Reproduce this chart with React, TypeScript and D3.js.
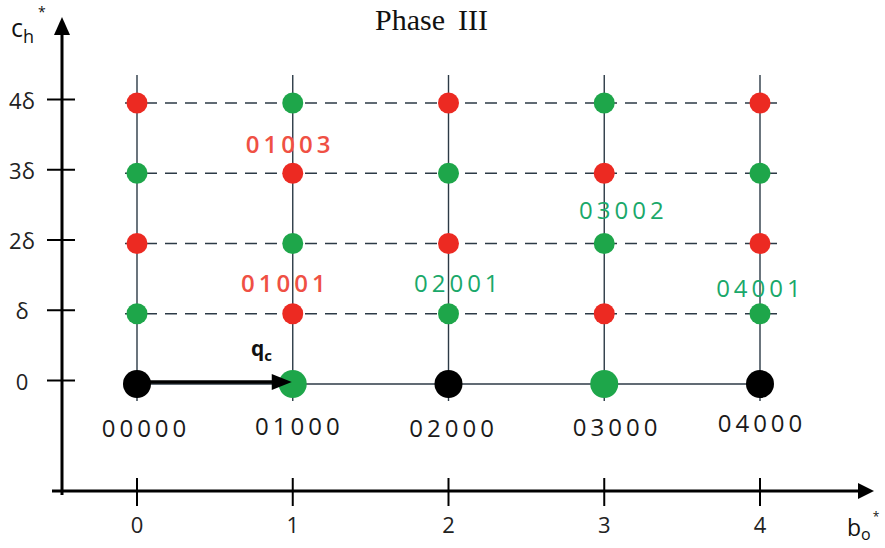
import React from "react";
import * as d3 from "d3";

const W = 885;
const H = 548;

const bValues = [0, 1, 2, 3, 4];
const cValues = [0, 1, 2, 3, 4];
const yTickLabels = ["0", "δ", "2δ", "3δ", "4δ"];
const xTickLabels = ["0", "1", "2", "3", "4"];

// colour code of each grid state, rows = c (0..4), cols = b (0..4)
const stateColors = [
  ["k", "g", "k", "g", "k"],
  ["g", "r", "g", "r", "g"],
  ["r", "g", "r", "g", "r"],
  ["g", "r", "g", "r", "g"],
  ["r", "g", "r", "g", "r"],
];

// state labels: text, anchor b, anchor c, colour key
const stateLabels = [
  { text: "00000", b: 0.045, c: -0.62, col: "k" },
  { text: "01000", b: 1.03, c: -0.59, col: "k" },
  { text: "02000", b: 2.02, c: -0.62, col: "k" },
  { text: "03000", b: 3.07, c: -0.6, col: "k" },
  { text: "04000", b: 4.0, c: -0.55, col: "k" },
  { text: "01003", b: 0.97, c: 3.43, col: "r" },
  { text: "01001", b: 0.94, c: 1.44, col: "r" },
  { text: "02001", b: 2.05, c: 1.45, col: "g" },
  { text: "03002", b: 3.11, c: 2.48, col: "g" },
  { text: "04001", b: 3.99, c: 1.38, col: "g" },
];

const dotFill: Record<string, string> = { k: "#000000", g: "#1ea64a", r: "#ec2a22" };
const textFill: Record<string, string> = { k: "#1a1a1a", g: "#1aa86a", r: "#ef5044" };

export default function App() {
  const x = d3.scaleLinear().domain([0, 4]).range([137, 760]);
  const y = d3.scaleLinear().domain([0, 4]).range([384, 103]);
  const axisX = 62;
  const axisY = 491;
  const sans = "'Open Sans', 'DejaVu Sans', sans-serif";
  const serif = "'Liberation Serif', 'Times New Roman', serif";
  const grid = "#2c3a46";
  const ls = 4;

  return (
    <svg
      width={W}
      height={H}
      style={{ position: "fixed", left: 0, top: 0, background: "#fff" }}
      fontFamily={sans}
    >
      {/* title */}
      <text x={375} y={30} fontFamily={serif} fontSize={30} fill="#111">
        Phase
      </text>
      <text x={458} y={30} fontFamily={serif} fontSize={30} fill="#111">
        III
      </text>

      {/* vertical grid lines */}
      {bValues.map((b) => (
        <line key={"v" + b} x1={x(b)} x2={x(b)} y1={y(4) - 28} y2={y(0) + 17} stroke={grid} strokeWidth={1.4} />
      ))}
      {/* horizontal dashed lines */}
      {cValues.slice(1).map((c) => (
        <line key={"h" + c} x1={x(0) - 12} x2={x(4) + 17} y1={y(c)} y2={y(c)} stroke={grid} strokeWidth={1.4} strokeDasharray="12 8" />
      ))}
      <line x1={x(0)} x2={x(4)} y1={y(0)} y2={y(0)} stroke={grid} strokeWidth={1.4} />

      {/* axes */}
      <line x1={axisX} x2={axisX} y1={y(4) - 70} y2={axisY + 4} stroke="#000" strokeWidth={3} />
      <path d={`M${axisX - 8},${y(4) - 68} L${axisX},${y(4) - 86} L${axisX + 8},${y(4) - 68} Z`} fill="#000" />
      <line x1={axisX - 10} x2={x(4) + 100} y1={axisY} y2={axisY} stroke="#000" strokeWidth={3} />
      <path d={`M${x(4) + 98},${axisY - 8} L${x(4) + 114},${axisY} L${x(4) + 98},${axisY + 8} Z`} fill="#000" />

      {/* y ticks */}
      {cValues.map((c, i) => (
        <g key={"yt" + c}>
          <line x1={axisX - 15} x2={axisX + 13} y1={y(c) - 3.5} y2={y(c) - 3.5} stroke="#000" strokeWidth={2} />
          <text x={22} y={y(c) - 3.5} textAnchor="middle" dominantBaseline="central" fontSize={22} fill="#222">
            {yTickLabels[i]}
          </text>
        </g>
      ))}
      {/* x ticks */}
      {bValues.map((b, i) => (
        <g key={"xt" + b}>
          <line x1={x(b)} x2={x(b)} y1={axisY - 13} y2={axisY + 15} stroke="#000" strokeWidth={2} />
          <text x={x(b)} y={axisY + 33} textAnchor="middle" dominantBaseline="central" fontSize={22} fill="#222">
            {xTickLabels[i]}
          </text>
        </g>
      ))}

      {/* axis labels */}
      <text x={11} y={37} fontSize={25} fill="#111">
        c
        <tspan fontSize={18} dy={6}>h</tspan>
        <tspan fontSize={14} dx={4} dy={-26}>*</tspan>
      </text>
      <text x={847} y={536} fontSize={23} fill="#111">
        b
        <tspan fontSize={16} dy={4}>o</tspan>
        <tspan fontSize={12} dx={2} dy={-19}>*</tspan>
      </text>

      {/* q_c arrow */}
      <line x1={x(0)} x2={x(1) - 18} y1={y(0) - 2} y2={y(0) - 2} stroke="#000" strokeWidth={3.4} />
      <text x={251} y={356} fontSize={21} fontWeight="bold" fill="#111">
        q<tspan fontSize={15} dy={5}>c</tspan>
      </text>

      {/* points */}
      {cValues.map((c, ri) =>
        bValues.map((b, ci) => {
          const k = stateColors[ri][ci];
          return (
            <circle key={`p${b}-${c}`} cx={x(b)} cy={y(c)} r={c === 0 ? 14 : 10.5} fill={dotFill[k]} />
          );
        })
      )}
      {/* arrow head drawn over the green dot */}
      <path d={`M${x(1) - 21},${y(0) - 10} L${x(1) - 1},${y(0) - 2} L${x(1) - 21},${y(0) + 6} Z`} fill="#000" />

      {/* state labels */}
      {stateLabels.map((l) => (
        <text
          key={l.text}
          x={x(l.b) + ls / 2}
          y={y(l.c)}
          textAnchor="middle"
          dominantBaseline="central"
          fontSize={24}
          letterSpacing={ls}
          fontWeight={l.col === "r" ? 600 : 400}
          fill={textFill[l.col]}
        >
          {l.text}
        </text>
      ))}
    </svg>
  );
}
